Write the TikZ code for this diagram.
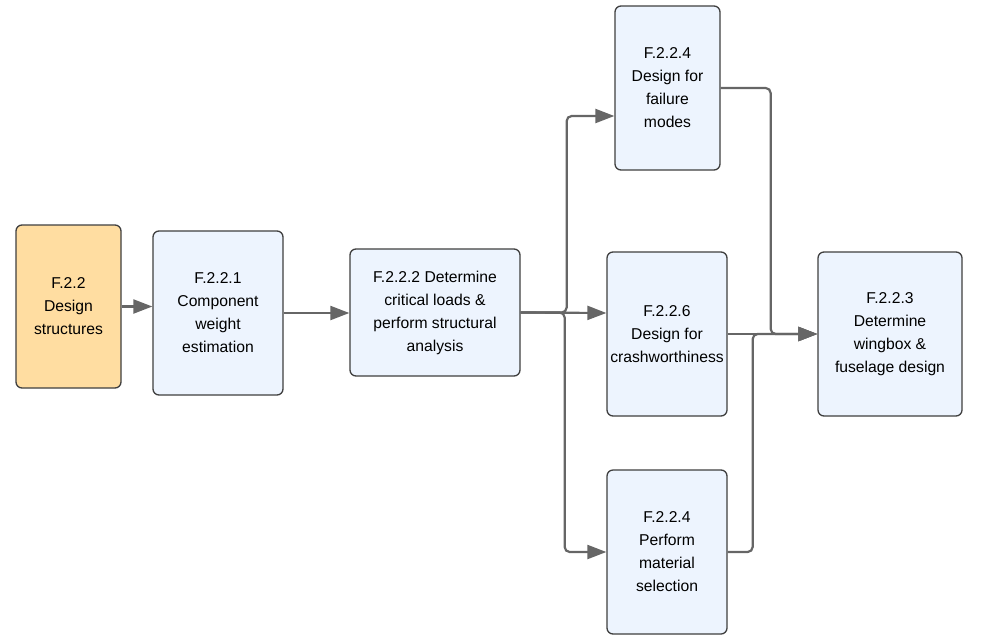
\documentclass[tikz,border=0pt]{standalone}
\usepackage{fontspec}
\setmainfont{Liberation Sans}
\usetikzlibrary{arrows.meta}
\definecolor{taskfill}{HTML}{EDF4FE}
\definecolor{rootfill}{HTML}{FFDDA1}
\definecolor{boxline}{HTML}{3F3F3F}
\definecolor{linkgray}{HTML}{666666}
\begin{document}
\begin{tikzpicture}[x=1pt,y=-1pt,
  box/.style={draw=boxline, line width=1.3pt, rounded corners=6pt, fill=taskfill,
    align=center, inner sep=0pt, text=black,
    font=\fontsize{15.7}{23}\selectfont},
  link/.style={draw=linkgray, line width=2.2pt, rounded corners=5pt},
  tip/.style={-{Triangle[length=19pt,width=14pt]}}]
\useasboundingbox (0,0) rectangle (981,635);

\node[box, fill=rootfill, minimum width=105pt, minimum height=163pt] (a0) at (68.5,306.5) {F.2.2\\Design\\structures};
\node[box, minimum width=130pt, minimum height=164pt] (a1) at (218,313) {F.2.2.1\\Component\\weight\\estimation};
\node[box, minimum width=170pt, minimum height=127pt] (a2) at (435,312.5) {F.2.2.2 Determine\\critical loads \&\\perform structural\\analysis};
\node[box, minimum width=105pt, minimum height=164pt] (b4) at (667.5,88) {F.2.2.4\\Design for\\failure\\modes};
\node[box, minimum width=120pt, minimum height=164pt] (b6) at (667,334) {F.2.2.6\\Design for\\crashworthiness};
\node[box, minimum width=120pt, minimum height=164pt] (b5) at (667,552) {F.2.2.4\\Perform\\material\\selection};
\node[box, minimum width=144pt, minimum height=164pt] (b3) at (890,334) {F.2.2.3\\Determine\\wingbox \&\\fuselage design};

% main chain
\draw[link, tip] (a0.east) -- (a0.east -| a1.west);
\draw[link, tip] (a1.east) -- (a1.east -| a2.west);

% fan-out to the three design tasks
\draw[link, tip] (a2.east) -- ++(46,0) |- ([yshift=-28pt]b4.west);
\draw[link, tip] (a2.east) -- ([yshift=21pt]b6.west);
\draw[link, tip] (a2.east) -- ++(44,0) |- (b5.west);

% fan-in to the wingbox and fuselage design
\draw[link, tip] (b4.east) -- ++(50,0) |- (b3.west);
\draw[link, tip] (b6.east) -- (b3.west);
\draw[link, tip] (b5.east) -- ++(25,0) |- (b3.west);
\end{tikzpicture}
\end{document}
